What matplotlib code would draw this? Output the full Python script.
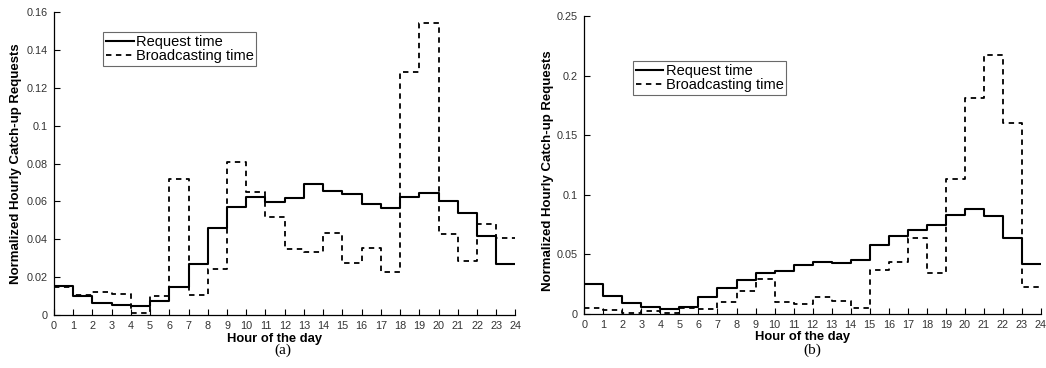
import matplotlib
matplotlib.use("Agg")
import matplotlib.pyplot as plt
import numpy as np
from matplotlib.ticker import FuncFormatter

plt.rcParams["font.family"] = ["Liberation Sans", "DejaVu Sans"]

hours = np.arange(25)

# (a) hourly shares
req_a = [0.0155, 0.0100, 0.0065, 0.0053, 0.0049, 0.0074, 0.0150, 0.0270,
         0.0458, 0.0573, 0.0625, 0.0599, 0.0620, 0.0690, 0.0657, 0.0638,
         0.0585, 0.0566, 0.0625, 0.0643, 0.0604, 0.0541, 0.0416, 0.0268]
brd_a = [0.0150, 0.0106, 0.0122, 0.0113, 0.0012, 0.0100, 0.0719, 0.0106,
         0.0242, 0.0807, 0.0648, 0.0520, 0.0347, 0.0331, 0.0432, 0.0273,
         0.0352, 0.0229, 0.1286, 0.1542, 0.0426, 0.0285, 0.0481, 0.0409]

# (b)
req_b = [0.0252, 0.0155, 0.0093, 0.0059, 0.0045, 0.0059, 0.0141, 0.0220,
         0.0288, 0.0345, 0.0364, 0.0410, 0.0436, 0.0424, 0.0453, 0.0582,
         0.0655, 0.0705, 0.0744, 0.0828, 0.0877, 0.0826, 0.0638, 0.0422]
brd_b = [0.0051, 0.0031, 0.0008, 0.0025, 0.0006, 0.0048, 0.0042, 0.0104,
         0.0189, 0.0297, 0.0104, 0.0084, 0.0143, 0.0110, 0.0051, 0.0371,
         0.0436, 0.0635, 0.0348, 0.1130, 0.1815, 0.2175, 0.1600, 0.0228]

panels = [
    dict(req=req_a, brd=brd_a, ymax=0.16, yticks=np.arange(0, 0.161, 0.02),
         rect=[0.0516, 0.144, 0.4412, 0.8226], tag="(a)", tag_x=0.2705,
         ylab=(-0.069, 0.5), leg=(0.106, 0.935)),
    dict(req=req_b, brd=brd_b, ymax=0.25, yticks=np.arange(0, 0.251, 0.05),
         rect=[0.5586, 0.1467, 0.4366, 0.8098], tag="(b)", tag_x=0.777,
         ylab=(-0.066, 0.48), leg=(0.106, 0.85)),
]

fig = plt.figure(figsize=(10.46, 3.68), dpi=100)

for p in panels:
    ax = fig.add_axes(p["rect"])
    ax.step(hours, p["req"] + [p["req"][-1]], where="post", color="black",
            lw=1.5, label="Request time")
    ax.step(hours, p["brd"] + [p["brd"][-1]], where="post", color="black",
            lw=1.3, linestyle=(0, (3, 2.5)), label="Broadcasting time")

    ax.set_xlim(0, 24)
    ax.set_ylim(0, p["ymax"])
    ax.set_xticks(hours)
    ax.set_yticks(p["yticks"])
    ax.yaxis.set_major_formatter(FuncFormatter(lambda v, _: f"{v:g}"))
    for s in ("top", "right"):
        ax.spines[s].set_visible(False)
    for s in ("left", "bottom"):
        ax.spines[s].set_linewidth(0.9)
    ax.tick_params(direction="in", length=4, width=0.8, labelsize=7.8,
                   labelcolor="#333333")
    ax.tick_params(axis="x", pad=4)
    ax.tick_params(axis="y", pad=4.5)

    ax.set_ylabel("Normalized Hourly Catch-up Requests", fontsize=9.5,
                  fontweight="bold")
    ax.yaxis.set_label_coords(*p["ylab"])
    ax.set_xlabel("Hour of the day", fontsize=9.4, fontweight="bold")
    ax.xaxis.label.set_va("center")
    ax.xaxis.set_label_coords(0.479, -0.078)

    leg = ax.legend(loc="upper left", bbox_to_anchor=p["leg"], fontsize=10.5,
                    frameon=True, fancybox=False, handlelength=1.9,
                    handletextpad=0.15, borderpad=0.2, labelspacing=0.0,
                    borderaxespad=0)
    leg.get_frame().set_edgecolor("#444444")
    leg.get_frame().set_linewidth(0.8)

    fig.text(p["tag_x"], 0.049, p["tag"], ha="center", va="center",
             fontsize=11, family="Liberation Serif")

fig.savefig("out.png", dpi=100)
